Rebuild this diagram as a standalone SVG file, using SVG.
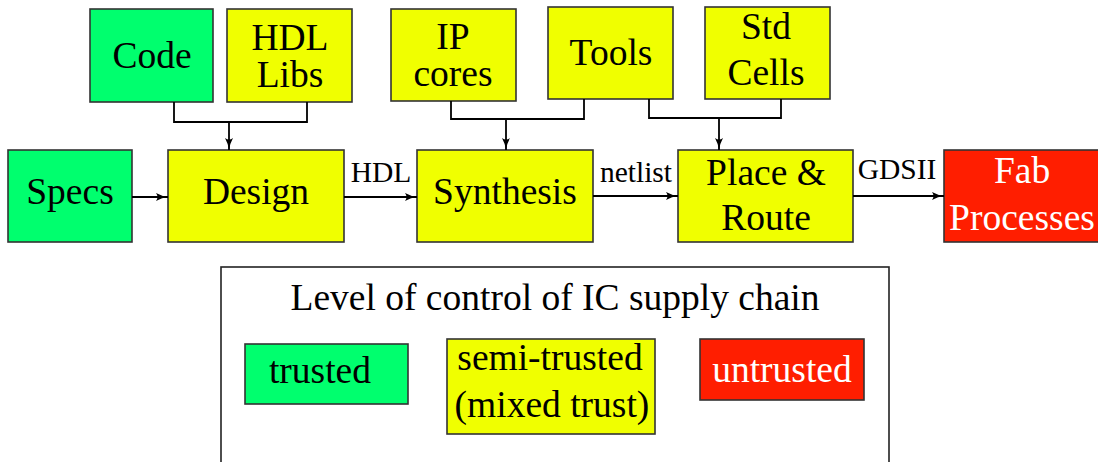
<svg xmlns="http://www.w3.org/2000/svg" width="1098" height="462" viewBox="0 0 1098 462">
<style>
.box{stroke:#333;stroke-width:1.6}
.g{fill:#00FF6E}.y{fill:#F0FF00}.r{fill:#FF1E00}
text{font-family:'Liberation Serif','DejaVu Serif',serif;font-size:37.5px;fill:#000;text-anchor:middle}
.w{fill:#fff}
.lbl{font-size:29.5px}
.c{fill:none;stroke:#000;stroke-width:1.8}
</style>
<defs>
<marker id="ah" markerWidth="14" markerHeight="10" refX="12" refY="5" orient="auto" markerUnits="userSpaceOnUse">
<path d="M0,1 Q6,4.3 12,5 Q6,5.7 0,9 Q3,5 0,1 Z" fill="#000"/>
</marker>
</defs>
<rect x="0" y="0" width="1098" height="462" fill="#fff"/>
<g id="code"><rect class="box g" x="90" y="9" width="123" height="93"/><text x="152" y="68">Code</text></g>
<g id="hdllibs"><rect class="box y" x="227" y="9" width="125" height="93"/><text x="290" y="50">HDL</text><text x="290" y="87">Libs</text></g>
<g id="ipcores"><rect class="box y" x="391" y="9" width="125" height="92"/><text x="453" y="49">IP</text><text x="453" y="86">cores</text></g>
<g id="tools"><rect class="box y" x="548" y="7" width="125" height="92"/><text x="611" y="65">Tools</text></g>
<g id="stdcells"><rect class="box y" x="705" y="7" width="125" height="92"/><text x="766" y="39">Std</text><text x="766" y="85">Cells</text></g>
<g id="specs"><rect class="box g" x="8" y="150" width="124" height="92"/><text x="70" y="204">Specs</text></g>
<g id="design"><rect class="box y" x="168" y="150" width="176" height="92"/><text x="256" y="204">Design</text></g>
<g id="synthesis"><rect class="box y" x="417" y="150" width="176" height="92"/><text x="505" y="204">Synthesis</text></g>
<g id="placeroute"><rect class="box y" x="678" y="150" width="175" height="92"/><text x="766" y="185">Place &amp;</text><text x="766" y="230">Route</text></g>
<g id="fab"><rect class="box r" x="944" y="150" width="170" height="92"/><text class="w" x="1022" y="183">Fab</text><text class="w" x="1022" y="230">Processes</text></g>
<g id="connectors">
<path class="c" d="M174,102 V122 H307 V102"/>
<path class="c" d="M229,122 V150" marker-end="url(#ah)"/>
<path class="c" d="M451,101 V119 H584 V99"/>
<path class="c" d="M506,119 V150" marker-end="url(#ah)"/>
<path class="c" d="M649,99 V118 H781 V99"/>
<path class="c" d="M719,118 V150" marker-end="url(#ah)"/>
<path class="c" d="M132,197 H168" marker-end="url(#ah)"/>
<path class="c" d="M344,197 H417" marker-end="url(#ah)"/>
<path class="c" d="M593,196 H678" marker-end="url(#ah)"/>
<path class="c" d="M853,196 H944" marker-end="url(#ah)"/>
<text class="lbl" x="381" y="182">HDL</text>
<text class="lbl" x="636" y="182">netlist</text>
<text class="lbl" x="897" y="179">GDSII</text>
</g>
<g id="legend">
<rect x="221" y="267" width="668" height="210" fill="#fff" stroke="#222" stroke-width="1.6"/>
<text x="555" y="310">Level of control of IC supply chain</text>
<g id="trusted"><rect class="box g" x="245" y="344" width="163" height="60"/><text x="320" y="383">trusted</text></g>
<g id="semitrusted"><rect class="box y" x="447" y="339" width="208" height="95"/><text x="550" y="370">semi-trusted</text><text x="552" y="417">(mixed trust)</text></g>
<g id="untrusted"><rect class="box r" x="700" y="339" width="164" height="61"/><text class="w" x="782" y="382">untrusted</text></g>
</g>
</svg>
